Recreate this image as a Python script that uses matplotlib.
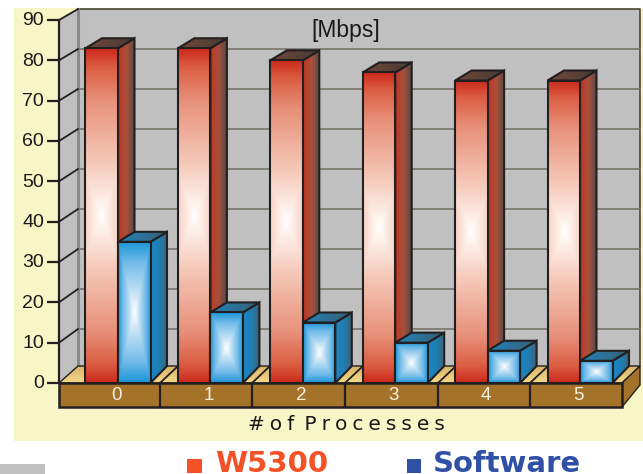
# IMPORTS
import numpy as np
import matplotlib
matplotlib.use("Agg")
import matplotlib.pyplot as plt
from matplotlib.colors import LinearSegmentedColormap
from matplotlib.patches import Polygon, Rectangle


# DATA
processes = ["0", "1", "2", "3", "4", "5"]
w5300 = [83, 83, 80, 77, 75, 75]
software = [35, 17.5, 15, 10, 8, 5.5]
y_ticks = [0, 10, 20, 30, 40, 50, 60, 70, 80, 90]


# SCALES: category units on x, Mbps on y, figure is 643x474
PX_PER_CAT = 92.4
PX_PER_MBPS = 4.033
X0_PX = 118.0
Y0_PX = 383.0

def X(px):
    return (px - X0_PX) / PX_PER_CAT

def Y(py):
    return (Y0_PX - py) / PX_PER_MBPS

BAR_W = 32.5 / PX_PER_CAT
DEPTH_X = 16.5 / PX_PER_CAT
DEPTH_TOP = 10 / PX_PER_MBPS
DEPTH_BASE = 17 / PX_PER_MBPS

DARK = "#231F20"
red_map = LinearSegmentedColormap.from_list("r", [(0, "#FFFFFF"), (0.1, "#FDEDE6"), (0.3, "#F6CBBB"), (0.69, "#E8917A"), (0.89, "#DB5E43"), (1, "#CC2A1C")])
blue_map = LinearSegmentedColormap.from_list("b", [(0, "#FFFFFF"), (0.3, "#BFE0F5"), (0.7, "#72BBE8"), (1, "#1B95D8")])
red_side = LinearSegmentedColormap.from_list("rs", ["#C23420", "#A8503C", "#524845"])
blue_side = LinearSegmentedColormap.from_list("bs", ["#1A86C4", "#1F7FB4", "#3F5F70"])
red_top = LinearSegmentedColormap.from_list("rt", ["#74463A", "#453C36"])
blue_top = LinearSegmentedColormap.from_list("bt", ["#1F84BC", "#3A5E72"])
floor_map = LinearSegmentedColormap.from_list("f", ["#F5D98A", "#D9B36A"])

fig = plt.figure(figsize=(6.43, 4.74), dpi=100)
ax = fig.add_axes([0, 0, 1, 1])
ax.axis("off")
plt.rcParams["font.family"] = ["Liberation Sans", "DejaVu Sans"]


def poly(points, color, edge="none", lw=0, z=1):
    ax.add_patch(Polygon(points, closed=True, facecolor=color, edgecolor=edge, linewidth=lw, zorder=z, joinstyle="miter"))


def gradient_face(points, img, cmap, z, lw=1.5):
    pts = np.array(points)
    extent = [pts[:, 0].min(), pts[:, 0].max(), pts[:, 1].min(), pts[:, 1].max()]
    im = ax.imshow(img, extent=extent, cmap=cmap, vmin=0, vmax=1, aspect="auto", origin="lower", zorder=z, interpolation="bilinear")
    clip = Polygon(points, closed=True, transform=ax.transData)
    im.set_clip_path(clip)
    ax.add_patch(Polygon(points, closed=True, fill=False, edgecolor=DARK, linewidth=lw, zorder=z + 0.01, joinstyle="miter"))


def draw_bar(left, value, front_map, side_map, top_map, k, z):
    right = left + BAR_W
    # side face
    side = [(right, 0), (right + DEPTH_X, DEPTH_BASE), (right + DEPTH_X, value + DEPTH_TOP), (right, value)]
    gradient_face(side, np.linspace(0, 1, 64)[None, :], side_map, z)
    # top face
    top = [(left, value), (left + DEPTH_X, value + DEPTH_TOP), (right + DEPTH_X, value + DEPTH_TOP), (right, value)]
    gradient_face(top, np.linspace(0, 1, 64)[None, :], top_map, z + 0.1)
    # front face, box gradient around the middle
    u, v = np.meshgrid(np.linspace(-1, 1, 80), np.linspace(-1, 1, 200))
    gradient_face([(left, 0), (right, 0), (right, value), (left, value)], np.maximum(np.abs(v), k * np.abs(u)), front_map, z + 0.2)


# BACKGROUND
ax.add_patch(Rectangle((X(14), Y(441)), X(643) - X(14), Y(8) - Y(441), facecolor="#F7F6C6", edgecolor="none", zorder=0))
ax.add_patch(Rectangle((X(0), Y(474)), X(45) - X(0), Y(464) - Y(474), facecolor="#C0C0C0", edgecolor="none", zorder=0))

# BACK WALL, SIDE WALL AND GRID
ax.add_patch(Rectangle((X(78), Y(366)), X(640) - X(78), Y(9) - Y(366), facecolor="#C0C0C0", edgecolor="none", zorder=1))
ax.plot([X(78), X(78), X(640), X(640)], [Y(366), Y(9), Y(9), Y(366)], color="#4A473A", lw=1.2, zorder=1.1)
poly([(X(59), 0), (X(78), Y(366)), (X(78), Y(9)), (X(59), 90)], "#C0C0C0", z=1.2)
ax.plot([X(78), X(78)], [Y(366), Y(9)], color="#8A8A8A", lw=2.2, zorder=1.3)
for t in y_ticks[1:-1]:
    back = Y(369 - 4 * t)
    ax.plot([X(78), X(640)], [back, back], color="#77756A", lw=1.2, zorder=1.25)
    ax.plot([X(59), X(78)], [t, back], color=DARK, lw=1.3, zorder=1.3)
ax.plot([X(59), X(78)], [90, Y(9)], color=DARK, lw=1.3, zorder=1.3)
for t in y_ticks:
    ax.plot([X(47), X(59)], [t, t], color=DARK, lw=1.6, zorder=1.4, solid_capstyle="butt")
    ax.text(X(44), t - 0.2, str(t), ha="right", va="center", fontsize=14, color="#1A1A1A", zorder=5)
ax.plot([X(59), X(59)], [0, 90], color=DARK, lw=1.6, zorder=1.4)
ax.text(X(346), Y(30), "[Mbps]", ha="center", va="center", fontsize=16.5, color="#1A1A1A", zorder=5)

# FLOOR AND BASE
seps = [160, 252, 345, 438, 530]
gradient_face([(X(59), 0), (X(622), 0), (X(640), Y(366)), (X(78), Y(366))], np.linspace(0, 1, 32)[:, None], floor_map, 1.5, lw=1.0)
for s in seps:
    ax.plot([X(s), X(s + 18)], [0, Y(366)], color=DARK, lw=1.3, zorder=1.6)
poly([(X(622), Y(407)), (X(622), 0), (X(640), Y(366)), (X(640), Y(385))], "#A5722A", DARK, 1.0, z=4)
ax.add_patch(Rectangle((X(59), Y(407)), X(622) - X(59), Y(383) - Y(407), facecolor="#A5722A", edgecolor=DARK, linewidth=1.8, zorder=4))
for s in seps:
    ax.plot([X(s), X(s)], [0, Y(407)], color=DARK, lw=1.6, zorder=4.1)
for i, name in enumerate(processes):
    ax.text(i - 0.015, Y(396), name, ha="center", va="center", fontsize=13.5, color="#F5F0E0", zorder=5)
ax.text(X(346), Y(425), "#\u2005o\u2005f\u2002P\u2005r\u2005o\u2005c\u2005e\u2005s\u2005s\u2005e\u2005s", ha="center", va="center", fontsize=14.5, family="DejaVu Sans", color="#1A1A1A", zorder=5)

# BARS
for i in range(len(processes)):
    draw_bar(i - BAR_W, w5300[i], red_map, red_side, red_top, 0.25, 2 + i * 0.1)
    draw_bar(i, software[i], blue_map, blue_side, blue_top, 1.0, 3 + i * 0.1)

# LEGEND
ax.add_patch(Rectangle((X(187), Y(473)), X(202) - X(187), Y(459) - Y(473), facecolor="#F55126", edgecolor="none", zorder=5))
ax.text(X(215), Y(472), "W5300", ha="left", va="baseline", fontsize=21, fontweight="bold", family="DejaVu Sans", color="#F55126", zorder=5)
ax.add_patch(Rectangle((X(407), Y(473)), X(421) - X(407), Y(459) - Y(473), facecolor="#3050A5", edgecolor="none", zorder=5))
ax.text(X(433), Y(472), "Software", ha="left", va="baseline", fontsize=21, fontweight="bold", family="DejaVu Sans", color="#3050A5", zorder=5)

ax.set_xlim(X(0), X(643))
ax.set_ylim(Y(474), Y(0))
fig.savefig("out.png", dpi=100)
